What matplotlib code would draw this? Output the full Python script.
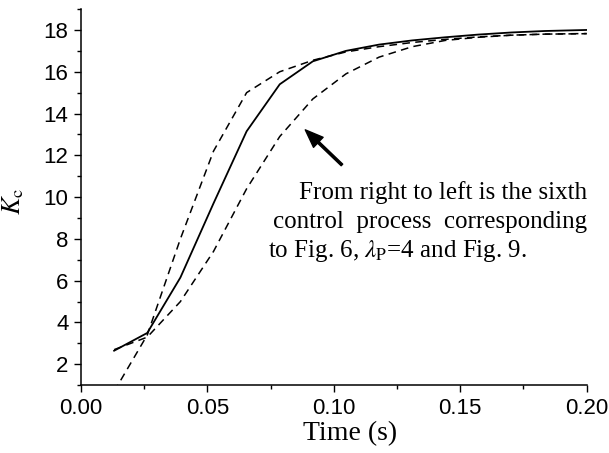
import numpy as np
import matplotlib
matplotlib.use('Agg')
import matplotlib.pyplot as plt
from matplotlib.ticker import MultipleLocator

plt.rcParams['mathtext.fontset'] = 'stix'

# sample times (s)
t = [0.0131, 0.0262, 0.0393, 0.0524, 0.0655, 0.0786, 0.0917, 0.1048,
     0.1179, 0.1310, 0.1441, 0.1572, 0.1703, 0.1834, 0.2000]

# solid curve
kc_mid = [2.65, 3.5, 6.15, 9.7, 13.15, 15.4, 16.5, 17.0,
          17.3, 17.5, 17.65, 17.78, 17.88, 17.95, 18.0]
# dashed, left (faster)
kc_left = [0.7, 3.4, 8.0, 12.2, 15.0, 16.0, 16.55, 16.95,
           17.2, 17.4, 17.55, 17.67, 17.75, 17.8, 17.83]
# dashed, right (slower)
kc_right = [2.7, 3.3, 5.0, 7.4, 10.4, 12.9, 14.7, 15.9,
            16.7, 17.2, 17.5, 17.65, 17.75, 17.8, 17.82]

note_lines = ['From right to left is the sixth',
              'control  process  corresponding',
              r'to Fig. 6, $\lambda_{\mathrm{P}}$=4 and Fig. 9.']

fig = plt.figure(figsize=(6.09, 4.53), dpi=100)
ax = fig.add_axes([0.133, 0.1497, 0.8304, 0.8303])

ax.plot(t, kc_left, color='k', lw=1.1, dashes=(5, 3.5))
ax.plot(t, kc_right, color='k', lw=1.1, dashes=(5, 3.5))
ax.plot(t, kc_mid, color='k', lw=1.3)

ax.set_xlim(0, 0.2)
ax.set_ylim(1, 19)
ax.xaxis.set_minor_locator(MultipleLocator(0.025))
ax.yaxis.set_minor_locator(MultipleLocator(1))
ax.set_xticks([0, 0.05, 0.1, 0.15, 0.2])
ax.set_xticklabels(['0.00', '0.05', '0.10', '0.15', '0.20'])
ax.set_yticks([2, 4, 6, 8, 10, 12, 14, 16, 18])

for s in ['top', 'right']:
    ax.spines[s].set_visible(False)
for s in ['left', 'bottom']:
    ax.spines[s].set_linewidth(1.1)

ax.tick_params(which='major', direction='out', length=5, width=1.0,
               labelsize=16, pad=4)
ax.tick_params(which='minor', direction='out', length=3, width=1.0)
for lab in ax.get_xticklabels() + ax.get_yticklabels():
    lab.set_family('Liberation Sans')

ax.set_xlabel('Time (s)', family='Liberation Serif', fontsize=20)
ax.xaxis.set_label_coords(0.532, -0.095)
ax.set_ylabel(r'$K_{\mathrm{c}}$', fontsize=19)
ax.yaxis.set_label_coords(-0.108, 0.49)

ax.annotate('', xy=(0.0887, 13.22), xytext=(0.1032, 11.54),
            arrowprops=dict(facecolor='k', edgecolor='k', width=1.6,
                            headwidth=10, headlength=13, shrink=0))

ax.text(0.2, 9.91, note_lines[0], ha='right', va='baseline',
        family='Liberation Serif', fontsize=18)
ax.text(0.2, 8.52, note_lines[1], ha='right', va='baseline',
        family='Liberation Serif', fontsize=18)
ax.text(0.074, 7.15, note_lines[2], ha='left', va='baseline',
        family='Liberation Serif', fontsize=18)

fig.savefig('out.png', dpi=100)
